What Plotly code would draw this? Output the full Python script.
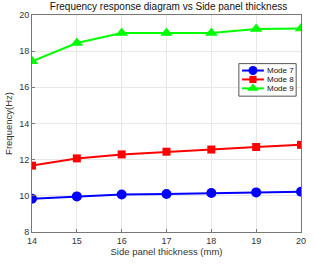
import plotly.graph_objects as go

thickness = [14, 15, 16, 17, 18, 19, 20]
mode7 = [9.84, 9.97, 10.07, 10.10, 10.16, 10.19, 10.23]
mode8 = [11.67, 12.07, 12.29, 12.44, 12.56, 12.70, 12.82]
mode9 = [17.44, 18.45, 19.0, 19.0, 19.0, 19.22, 19.25]
y_ticks = [8, 10, 12, 14, 16, 18, 20]

names = ["Mode 7", "Mode 8", "Mode 9"]
colors = ["#0000ff", "#ff0000", "#00ff00"]
symbols = ["circle", "square", "triangle-up"]
sizes = [10, 8, 11]
series = [mode7, mode8, mode9]

FONT = "Liberation Sans, Arial"

fig = go.Figure()
for nm, c, s, sz, ys in zip(names, colors, symbols, sizes, series):
    fig.add_trace(go.Scatter(x=thickness, y=ys, name=nm, mode="lines+markers",
                             line=dict(color=c, width=2),
                             marker=dict(symbol=s, size=sz, color=c),
                             showlegend=False))

# compact MATLAB-style legend drawn on an overlay axis (0..1 units)
leg_x0, leg_x1 = 0.769, 0.982
leg_top, leg_bot = 0.776, 0.626
row_y = [0.744, 0.703, 0.662]
fig.add_trace(go.Scatter(x=[leg_x0, leg_x1, leg_x1, leg_x0, leg_x0],
                         y=[leg_bot, leg_bot, leg_top, leg_top, leg_bot],
                         xaxis="x2", yaxis="y2", mode="lines", fill="toself",
                         fillcolor="white", line=dict(color="#555555", width=1),
                         showlegend=False, hoverinfo="skip"))
for nm, c, s, sz, ry in zip(names, colors, symbols, sizes, row_y):
    fig.add_trace(go.Scatter(x=[0.781, 0.862], y=[ry, ry], xaxis="x2", yaxis="y2",
                             mode="lines", line=dict(color=c, width=2),
                             showlegend=False, hoverinfo="skip"))
    fig.add_trace(go.Scatter(x=[0.8215], y=[ry], xaxis="x2", yaxis="y2",
                             mode="markers", marker=dict(symbol=s, size=sz * 0.9, color=c),
                             showlegend=False, hoverinfo="skip"))
    fig.add_annotation(x=0.868, y=ry, xref="x2", yref="y2", text=nm, showarrow=False,
                       xanchor="left", yanchor="middle",
                       font=dict(family=FONT, size=8, color="#111111"))

axis_common = dict(showgrid=True, gridcolor="#e8e8e8", gridwidth=1,
                   showline=True, linecolor="#777777", linewidth=1, mirror=True,
                   ticks="inside", ticklen=3, tickcolor="#777777",
                   tickfont=dict(family=FONT, size=9, color="#333333"),
                   zeroline=False)

fig.update_layout(
    width=315, height=264,
    margin=dict(l=29, r=9, t=15, b=30),
    paper_bgcolor="white", plot_bgcolor="white",
    title=dict(text="Frequency response diagram vs Side panel thickness",
               x=0.535, xanchor="center", y=0.99, yanchor="top",
               font=dict(family=FONT, size=10, color="#111111")),
    xaxis=dict(range=[14, 20], tickvals=thickness,
               title=dict(text="Side panel thickness (mm)", standoff=3,
                          font=dict(family=FONT, size=9.5, color="#333333")),
               **axis_common),
    yaxis=dict(range=[8, 20], tickvals=y_ticks,
               title=dict(text="Frequency(Hz)", standoff=4,
                          font=dict(family=FONT, size=9.5, color="#333333")),
               **axis_common),
    xaxis2=dict(range=[0, 1], overlaying="x", visible=False, fixedrange=True),
    yaxis2=dict(range=[0, 1], overlaying="y", visible=False, fixedrange=True),
    showlegend=False,
)

fig.write_html("out.html")
